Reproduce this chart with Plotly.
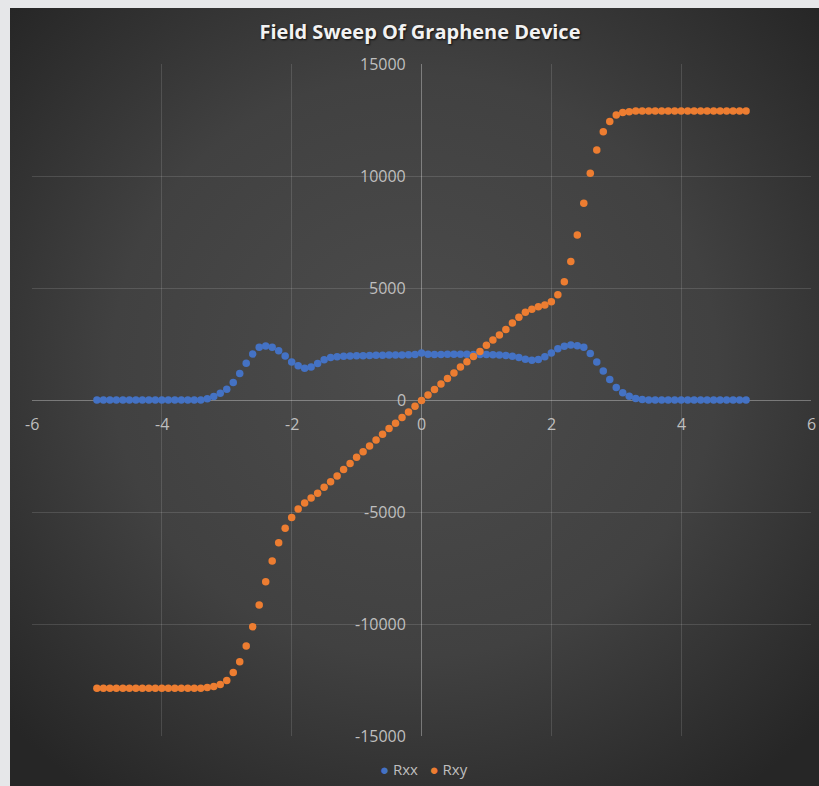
import base64
import numpy as np
import plotly.graph_objects as go

# Magnetic field sweep (T) -- 0.1 T steps from -5 to 5
field = np.round(np.linspace(-5, 5, 101), 2)

rxx = ([0] * 17 +
       [60, 160, 300, 480, 780, 1180, 1640, 2050, 2350, 2410, 2350, 2200, 1960, 1700,
        1530, 1420, 1470, 1630, 1800, 1900, 1930, 1950, 1960, 1970, 1980, 1990, 2000,
        2000, 2010, 2010, 2010, 2020, 2030, 2100, 2040, 2030, 2030, 2040, 2040, 2040,
        2040, 2030, 2030, 2030, 2020, 2010, 1990, 1950, 1900, 1820, 1780, 1810, 1930,
        2100, 2290, 2400, 2450, 2420, 2350, 2080, 1700, 1300, 920, 560, 320, 170, 70, 20] +
       [0] * 16)

rxy = ([-12870] * 17 +
       [-12840, -12790, -12700, -12520, -12170, -11680, -10980, -10120, -9150, -8110,
        -7190, -6370, -5730, -5240, -4870, -4600, -4380, -4160, -3900, -3650, -3390,
        -3100, -2830, -2560, -2310, -2050, -1790, -1530, -1270, -1040, -780, -540, -280,
        -20, 220, 470, 710, 960, 1200, 1470, 1710, 1940, 2170, 2440, 2680, 2900, 3150,
        3440, 3690, 3920, 4050, 4160, 4240, 4390, 4700, 5280, 6180, 7370, 8780, 10120,
        11160, 11980, 12430, 12720, 12830, 12870] +
       [12900] * 18)

series_names = ["Rxx", "Rxy"]
series_colors = ["#4472c4", "#ed7d31"]
x_ticks = [-6, -4, -2, 0, 2, 4, 6]
y_ticks = [-15000, -10000, -5000, 0, 5000, 10000, 15000]

W, H = 819, 786
L, R, T, B = 32, 8, 64, 50
pw, ph = W - L - R, H - T - B
BX, BY = 10, 8   # top-left corner of the dark chart box

svg = ("<svg xmlns='http://www.w3.org/2000/svg' width='809' height='778' preserveAspectRatio='none'>"
       "<defs><radialGradient id='g' cx='50%' cy='46%' r='68%'>"
       "<stop offset='0' stop-color='#4c4c4c'/><stop offset='0.55' stop-color='#414141'/>"
       "<stop offset='1' stop-color='#262626'/></radialGradient></defs>"
       "<rect width='809' height='778' fill='url(#g)'/></svg>")
bg_uri = "data:image/svg+xml;base64," + base64.b64encode(svg.encode()).decode()

fig = go.Figure()
for name, vals, col in zip(series_names, [rxx, rxy], series_colors):
    fig.add_trace(go.Scatter(x=field, y=vals, mode="markers", name=name,
                             marker=dict(color=col, size=7.5), showlegend=False))

font_fam = "Open Sans, Liberation Sans, sans-serif"
tick_col = "#bfbfbf"
ann = []
for v in x_ticks:
    ann.append(dict(x=v, y=0, xref="x", yref="y", text=str(v), showarrow=False,
                    xanchor="center", yanchor="middle", yshift=-24,
                    font=dict(family=font_fam, size=16, color=tick_col)))
for v in y_ticks:
    ann.append(dict(x=0, y=v, xref="x", yref="y", text=str(v), showarrow=False,
                    xanchor="right", yanchor="middle", xshift=-14,
                    font=dict(family=font_fam, size=16, color=tick_col)))

# legend entries (marker glyph + series name)
legend_text = "   ".join(
    f"<span style='color:{c}'>●</span> {n}" for n, c in zip(series_names, series_colors))
ann.append(dict(x=(424 - L) / pw, y=(T + ph - 769) / ph, xref="paper", yref="paper",
                text=legend_text, showarrow=False, xanchor="center", yanchor="middle",
                font=dict(family=font_fam, size=15, color=tick_col)))

fig.update_layout(
    width=W, height=H,
    margin=dict(l=L, r=R, t=T, b=B),
    paper_bgcolor="#e6e7e9",
    plot_bgcolor="rgba(0,0,0,0)",
    title=dict(text="<b>Field Sweep Of Graphene Device</b>", x=(420 - L) / pw, xref="paper",
               xanchor="center", y=1 - 32 / H, yanchor="middle",
               font=dict(family=font_fam, size=20, color="#f2f2f2",
                         shadow="1px 1px 2px rgba(0,0,0,0.8)")),
    images=[dict(source=bg_uri, xref="paper", yref="paper",
                 x=(BX - L) / pw, y=(T + ph - BY) / ph,
                 sizex=(W - BX) / pw, sizey=(H - BY) / ph,
                 xanchor="left", yanchor="top", sizing="stretch", layer="below")],
    xaxis=dict(range=[-6, 6], tickvals=x_ticks, showticklabels=False,
               showgrid=True, gridcolor="rgba(255,255,255,0.13)", gridwidth=1,
               zeroline=True, zerolinecolor="rgba(255,255,255,0.32)", zerolinewidth=1,
               showline=False, fixedrange=True),
    yaxis=dict(range=[-15000, 15000], tickvals=y_ticks, showticklabels=False,
               showgrid=True, gridcolor="rgba(255,255,255,0.13)", gridwidth=1,
               zeroline=True, zerolinecolor="rgba(255,255,255,0.32)", zerolinewidth=1,
               showline=False, fixedrange=True),
    annotations=ann,
    showlegend=False,
)

fig.write_html("out.html",
               config={"displayModeBar": False},
               post_script="document.body.style.margin='0';"
                           "document.body.style.overflow='hidden';")
